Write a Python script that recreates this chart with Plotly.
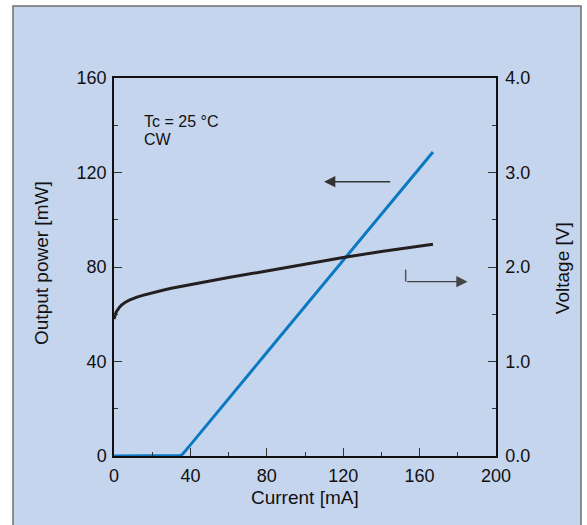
import plotly.graph_objects as go

# Output power vs current (left axis)
current_p = [0, 34, 35, 36, 37.5, 40, 80, 120, 160, 167]
power_mw = [0, 0, 0.2, 0.9, 2.2, 4.7, 43.8, 83.0, 122.0, 128.7]

# Voltage vs current (right axis)
current_v = [0, 0.5, 1, 1.5, 2, 3, 4, 5, 6, 8, 10, 12, 15, 20, 25, 30, 40, 50, 60, 80, 100, 120, 140, 167]
voltage_v = [1.45, 1.49, 1.515, 1.535, 1.552, 1.578, 1.598, 1.614, 1.628, 1.650, 1.667, 1.681,
             1.70, 1.728, 1.752, 1.775, 1.815, 1.852, 1.888, 1.958, 2.03, 2.10, 2.165, 2.24]

x_ticks = [0, 40, 80, 120, 160, 200]
y_ticks = [0, 40, 80, 120, 160]
y2_ticks = [0.0, 1.0, 2.0, 3.0, 4.0]

FONT = "Liberation Sans, Arial, sans-serif"
BG = "#c6d5ee"
PLOTBG = "#d3d4d5"

fig = go.Figure()
fig.add_trace(go.Scatter(x=current_p, y=power_mw, mode="lines",
                         line=dict(color="#0b78c3", width=3), yaxis="y"))
fig.add_trace(go.Scatter(x=current_v, y=voltage_v, mode="lines",
                         line=dict(color="#231f20", width=3), yaxis="y2"))

axis_common = dict(ticks="inside", ticklen=8, tickwidth=1.2, tickcolor="#333",
                   showline=True, linecolor="#111", linewidth=1.5, showgrid=False,
                   zeroline=False, tickfont=dict(size=18, color="#111", family=FONT))

fig.update_layout(
    width=587, height=525,
    margin=dict(l=114, r=91, t=78, b=69),
    paper_bgcolor="white",
    plot_bgcolor=PLOTBG,
    showlegend=False,
    font=dict(family=FONT, color="#111"),
    xaxis=dict(range=[0, 200], tickvals=x_ticks, mirror=True, ticklabelstandoff=3,
               minor=dict(dtick=20, ticklen=4, ticks="inside", tickcolor="#333"),
               **axis_common),
    yaxis=dict(range=[0, 160], tickvals=y_ticks, ticklabelstandoff=2,
               minor=dict(dtick=20, ticklen=4, ticks="inside", tickcolor="#333"),
               **axis_common),
    yaxis2=dict(range=[0, 4], tickvals=y2_ticks, tickformat=".1f", overlaying="y",
                side="right", anchor="x", ticklabelstandoff=4,
                minor=dict(dtick=0.5, ticklen=4, ticks="inside", tickcolor="#333"),
                **axis_common),
)

# outer frame
fig.add_shape(type="rect", xref="paper", yref="paper",
              x0=(13 - 114) / 382, x1=(581 - 114) / 382,
              y0=(456 - 540) / 378, y1=(456 - 6) / 378,
              fillcolor=BG, line=dict(color="#6f6f6f", width=1.5), layer="below")

# lower arrow vertical segment
fig.add_shape(type="line", xref="x", yref="y", x0=152.7, x1=152.7, y0=78.9, y1=73.8,
              line=dict(color="#555", width=1.5))

annos = [
    dict(text="Current [mA]", x=0.5, y=-0.1095, xref="paper", yref="paper",
         showarrow=False, font=dict(size=19), xanchor="center", yanchor="middle"),
    dict(text="Output power [mW]", x=-0.1885, y=0.5106, xref="paper", yref="paper",
         textangle=-90, showarrow=False, font=dict(size=19), xanchor="center", yanchor="middle"),
    dict(text="Voltage [V]", x=1.1728, y=0.497, xref="paper", yref="paper",
         textangle=-90, showarrow=False, font=dict(size=19), xanchor="center", yanchor="middle"),
    dict(text="Tc = 25 °C", x=14.7, y=141.5, xref="x", yref="y", showarrow=False,
         font=dict(size=16), xanchor="left", yanchor="middle"),
    dict(text="CW", x=14.7, y=133.8, xref="x", yref="y", showarrow=False,
         font=dict(size=16), xanchor="left", yanchor="middle"),
    dict(text="", x=110, y=116.1, ax=145.4, ay=116.1, xref="x", yref="y",
         axref="x", ayref="y", showarrow=True, arrowhead=2, arrowsize=1.6,
         arrowwidth=1.4, arrowcolor="#333"),
    dict(text="", x=185.1, y=73.8, ax=152.7, ay=73.8, xref="x", yref="y",
         axref="x", ayref="y", showarrow=True, arrowhead=2, arrowsize=1.6,
         arrowwidth=1.4, arrowcolor="#444"),
]
fig.update_layout(annotations=annos)

fig.write_html("out.html")
